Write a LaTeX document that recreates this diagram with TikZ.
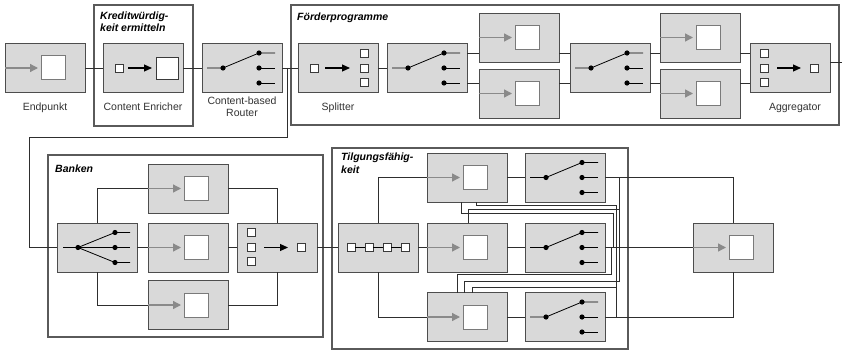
\documentclass[tikz,border=0pt]{standalone}
\usepackage{fontspec}
\setmainfont{Liberation Sans}
\usetikzlibrary{arrows.meta}
\definecolor{boxfill}{HTML}{D9D9D9}
\definecolor{boxline}{HTML}{4D4D4D}
\definecolor{grpline}{HTML}{5A5A5A}
\definecolor{connline}{HTML}{2E2E2E}
\definecolor{garrowc}{HTML}{8A8A8A}
\definecolor{epsqline}{HTML}{7A7A7A}
\definecolor{sqline}{HTML}{3A3A3A}
\definecolor{txtc}{HTML}{333333}
\tikzset{
 box/.style={draw=boxline, fill=boxfill, line width=0.9pt, minimum width=80pt, minimum height=49pt, inner sep=0pt, outer sep=0pt},
 grp/.style={draw=grpline, line width=1.1pt},
 conn/.style={draw=connline, line width=0.8pt},
 epsq/.style={draw=epsqline, fill=white, line width=1pt, minimum size=24pt, inner sep=0pt},
 wsq/.style={draw=sqline, fill=white, line width=0.8pt, minimum size=#1, inner sep=0pt},
 garrow/.style={draw=garrowc, line width=1.3pt, -{Triangle[length=8pt,width=8pt]}},
 barrow/.style={draw=black, line width=1.1pt, -{Triangle[length=8pt,width=7pt]}},
 inl/.style={draw=black, line width=0.8pt},
 lbl/.style={font=\fontsize{10.5}{13}\selectfont, text=txtc, inner sep=0pt, anchor=base},
 ttl/.style={font=\fontsize{10.5}{13}\selectfont\bfseries\itshape, inner sep=0pt, anchor=base west},
}
\newcommand\mkEndpoint[3]{%
  \node[box] (#1) at (#2,#3) {};
  \node[epsq] (#1sq) at ([xshift=8pt]#1.center) {};
  \draw[garrow] (#1.west) -- ([xshift=-7pt]#1.center);
}
\newcommand\mkRouter[3]{%
  \node[box] (#1) at (#2,#3) {};
  \coordinate (#1-p) at ([xshift=-19pt]#1.center);
  \coordinate (#1-a) at ([xshift=17pt,yshift=15pt]#1.center);
  \coordinate (#1-b) at ([xshift=17pt]#1.center);
  \coordinate (#1-c) at ([xshift=17pt,yshift=-15pt]#1.center);
  \coordinate (#1-oa) at ([yshift=15pt]#1.east);
  \coordinate (#1-oc) at ([yshift=-15pt]#1.east);
  \draw[inl] ([xshift=-35pt]#1.center) -- (#1-p) -- (#1-a) -- ++(16pt,0pt);
  \draw[inl] (#1-b) -- ++(16pt,0pt);
  \draw[inl] (#1-c) -- ++(16pt,0pt);
  \fill (#1-p) circle[radius=2.6pt] (#1-a) circle[radius=2.6pt] (#1-b) circle[radius=2.6pt] (#1-c) circle[radius=2.6pt];
}
\newcommand\mkEnricher[3]{%
  \node[box] (#1) at (#2,#3) {};
  \node[wsq=8pt] (#1-in) at ([xshift=-24pt]#1.center) {};
  \node[wsq=22pt] (#1-out) at ([xshift=24.5pt]#1.center) {};
  \draw[barrow] ([xshift=-15pt]#1.center) -- ([xshift=9pt]#1.center);
}
\newcommand\mkSplitter[3]{%
  \node[box] (#1) at (#2,#3) {};
  \node[wsq=8pt] (#1-in) at ([xshift=-24pt]#1.center) {};
  \node[wsq=8pt] (#1-o1) at ([xshift=26pt,yshift=15pt]#1.center) {};
  \node[wsq=8pt] (#1-o2) at ([xshift=26pt]#1.center) {};
  \node[wsq=8pt] (#1-o3) at ([xshift=26pt,yshift=-14pt]#1.center) {};
  \draw[barrow] ([xshift=-13pt]#1.center) -- ([xshift=12pt]#1.center);
}
\newcommand\mkAggregator[3]{%
  \node[box] (#1) at (#2,#3) {};
  \node[wsq=8pt] (#1-i1) at ([xshift=-26pt,yshift=15pt]#1.center) {};
  \node[wsq=8pt] (#1-i2) at ([xshift=-26pt]#1.center) {};
  \node[wsq=8pt] (#1-i3) at ([xshift=-26pt,yshift=-14pt]#1.center) {};
  \node[wsq=8pt] (#1-out) at ([xshift=24pt]#1.center) {};
  \draw[barrow] ([xshift=-13pt]#1.center) -- ([xshift=11pt]#1.center);
}
\newcommand\mkRecipients[3]{%
  \node[box] (#1) at (#2,#3) {};
  \coordinate (#1-p) at ([xshift=-19pt]#1.center);
  \coordinate (#1-a) at ([xshift=18pt,yshift=15pt]#1.center);
  \coordinate (#1-b) at ([xshift=18pt]#1.center);
  \coordinate (#1-c) at ([xshift=18pt,yshift=-15pt]#1.center);
  \draw[inl] ([xshift=-34pt]#1.center) -- (#1-p) -- (#1-b) -- ++(15pt,0pt);
  \draw[inl] (#1-p) -- (#1-a) -- ++(15pt,0pt);
  \draw[inl] (#1-p) -- (#1-c) -- ++(15pt,0pt);
  \fill (#1-p) circle[radius=2.6pt] (#1-a) circle[radius=2.6pt] (#1-b) circle[radius=2.6pt] (#1-c) circle[radius=2.6pt];
}
\newcommand\mkResequencer[3]{%
  \node[box] (#1) at (#2,#3) {};
  \node[wsq=8pt] (#1-s1) at ([xshift=-27pt]#1.center) {};
  \node[wsq=8pt] (#1-s2) at ([xshift=-9pt]#1.center) {};
  \node[wsq=8pt] (#1-s3) at ([xshift=9pt]#1.center) {};
  \node[wsq=8pt] (#1-s4) at ([xshift=27pt]#1.center) {};
  \draw[inl] (#1-s1) -- (#1-s2) -- (#1-s3) -- (#1-s4);
}
\begin{document}
\begin{tikzpicture}[x=1pt,y=-1pt]
\useasboundingbox[fill=white] (0,0) rectangle (842,350);
% groups
\draw[grp] (94,5) rectangle (193,126);
\draw[grp] (291,5) rectangle (839,125);
\draw[grp] (48,155) rectangle (323,337);
\draw[grp] (332,148) rectangle (628,349);
% group titles
\node[ttl] (tKr1) at (100,19.5) {Kreditwürdig-};
\node[ttl] (tKr2) at (100,32) {keit ermitteln};
\node[ttl] (tFoe) at (297,20.5) {Förderprogramme};
\node[ttl] (tBan) at (55,172) {Banken};
\node[ttl] (tTi1) at (341,160.5) {Tilgungsfähig-};
\node[ttl] (tTi2) at (341,173.5) {keit};
% top row
\mkEndpoint{ep0}{45}{68}
\mkEnricher{enr}{143}{68}
\mkRouter{cbr}{242}{68}
\mkSplitter{spl}{338}{68}
\mkRouter{fra}{427}{68}
\mkEndpoint{fua}{519}{37.5}
\mkEndpoint{fla}{519}{93.5}
\mkRouter{frb}{610}{68}
\mkEndpoint{fub}{700}{37.5}
\mkEndpoint{flb}{700}{93.5}
\mkAggregator{fag}{790}{68}
% labels
\node[lbl] (lEp) at (45,110.5) {Endpunkt};
\node[lbl] (lEnr) at (143,110.5) {Content Enricher};
\node[lbl] (lCbrA) at (242,104) {Content-based};
\node[lbl] (lCbrB) at (242,117) {Router};
\node[lbl] (lSpl) at (338,110.5) {Splitter};
\node[lbl] (lAgg) at (795,110.5) {Aggregator};
% Banken
\mkRecipients{rlist}{97}{247.5}
\mkEndpoint{bt}{188}{188.5}
\mkEndpoint{bm}{188}{247.5}
\mkEndpoint{bb}{188}{305}
\mkAggregator{bag}{277}{247.5}
% Tilgung
\mkResequencer{rsq}{378}{247.5}
\mkEndpoint{ta}{467}{177.5}
\mkEndpoint{tb}{467}{247.5}
\mkEndpoint{tc}{467}{317}
\mkRouter{ra}{565}{177.5}
\mkRouter{rb}{565}{247.5}
\mkRouter{rc}{565}{317}
\mkEndpoint{fin}{733}{247.5}
% connectors top
\draw[conn] (ep0.east) -- (enr.west);
\draw[conn] (enr.east) -- (cbr.west);
\draw[conn] (cbr.east) -- (spl.west);
\draw[conn] (spl.east) -- (fra.west);
\draw[conn] (fra-oa) -- (fra-oa -| fua.west);
\draw[conn] (fra-oc) -- (fra-oc -| fla.west);
\draw[conn] (fra-oa -| fua.east) -- (fra-oa -| frb.west);
\draw[conn] (fra-oc -| fla.east) -- (fra-oc -| frb.west);
\draw[conn] (frb-oa) -- (frb-oa -| fub.west);
\draw[conn] (frb-oc) -- (frb-oc -| flb.west);
\draw[conn] (frb-oa -| fub.east) -- (frb-oa -| fag.west);
\draw[conn] (frb-oc -| flb.east) -- (frb-oc -| fag.west);
\coordinate (aggOut) at (842,62);
\draw[conn] (aggOut -| fag.east) -- (aggOut);
% router to Banken
\coordinate (tap) at (287,68);
\coordinate (turnL) at (29,137);
\draw[conn] (tap) |- (turnL) |- (rlist.west);
% Banken connectors
\draw[conn] (rlist.north) |- (bt.west);
\draw[conn] (rlist.south) |- (bb.west);
\draw[conn] (rlist.east) -- (bm.west);
\draw[conn] (bt.east) -| (bag.north);
\draw[conn] (bb.east) -| (bag.south);
\draw[conn] (bm.east) -- (bag.west);
\draw[conn] (bag.east) -- (rsq.west);
% Tilgung connectors
\draw[conn] (rsq.north) |- (ta.west);
\draw[conn] (rsq.south) |- (tc.west);
\draw[conn] (rsq.east) -- (tb.west);
\draw[conn] (ta.east) -- (ra.west);
\draw[conn] (tb.east) -- (rb.west);
\draw[conn] (tc.east) -- (rc.west);
\draw[conn] (ra.east) -| (fin.north);
\draw[conn] (rb.east) -- (fin.west);
\draw[conn] (rc.east) -| (fin.south);
% feedback lines
\coordinate (cA) at (613,213); \coordinate (jA) at (613,247.5);
\draw[conn] ([xshift=-6pt]ta.south) |- (cA) -- (jA);
\coordinate (cB) at (619,209);
\draw[conn] ([xshift=1pt]tb.north) |- (cB);
\coordinate (cC) at (616,205); \coordinate (jC) at (616,317);
\draw[conn] ([xshift=9pt]ta.south) |- (cC) -- (jC);
\coordinate (cD) at (611,274); \coordinate (jD) at (611,247.5);
\draw[conn] ([xshift=-10pt]tc.north) |- (cD) -- (jD);
\coordinate (cE) at (619,281); \coordinate (jE) at (619,177.5);
\draw[conn] ([xshift=-3pt]tc.north) |- (cE) -- (jE);
\coordinate (cF) at (616,287);
\draw[conn] ([xshift=5pt]tc.north) |- (cF);
\end{tikzpicture}
\end{document}
